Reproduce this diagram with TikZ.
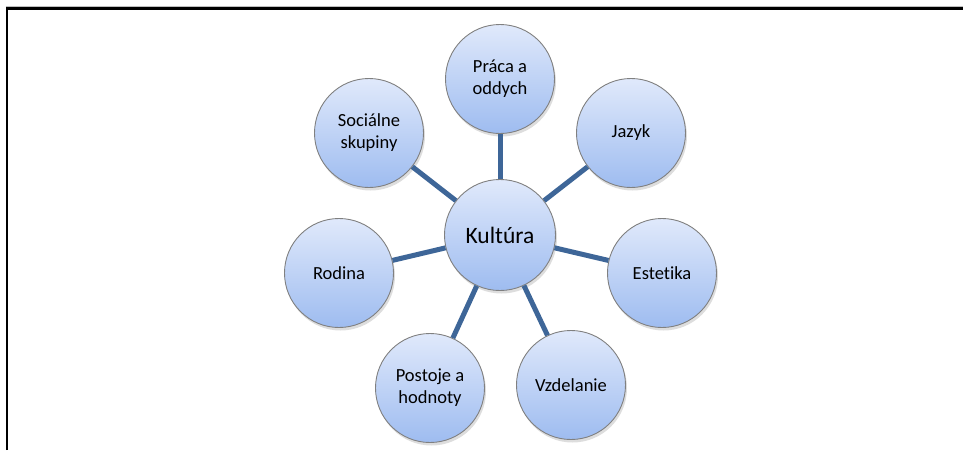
\documentclass[tikz,border=0pt]{standalone}
\usepackage{fontspec}
\setmainfont{Carlito}[RawFeature=-liga]
\usetikzlibrary{shadows}
\definecolor{linkblue}{RGB}{62,102,152}
\definecolor{ctop}{RGB}{224,233,251}
\definecolor{cbot}{RGB}{158,188,240}
\definecolor{cedge}{RGB}{128,128,128}
\tikzset{
  bubble/.style={circle, minimum size=109pt, inner sep=0pt, draw=cedge, line width=0.9pt,
    top color=ctop, bottom color=cbot, align=center,
    font=\fontsize{18.5}{22}\selectfont,
    drop shadow={shadow xshift=1.5pt, shadow yshift=-3pt, opacity=0.22, fill=black!60}},
  hub/.style={bubble, minimum size=111pt, font=\fontsize{23.5}{28}\selectfont},
  link/.style={draw=linkblue, line width=5pt}
}
\begin{document}
\begin{tikzpicture}[x=1pt, y=-1pt]
\useasboundingbox (0,0) rectangle (963,450);
\fill[white] (0,0) rectangle (963,450);
% frame
\draw[black!25, line width=1pt] (5.5,6.5) -- (963,6.5);
\draw[black, line width=2.6pt] (7,450) -- (7,8.6) -- (963,8.6);
% nodes
\node[hub] (k) at (500,235) {Kultúra};
\node[bubble] (p) at (500,79) {Práca a\\oddych};
\node[bubble] (j) at (631,133) {Jazyk};
\node[bubble] (e) at (662,273) {Estetika};
\node[bubble] (v) at (571,385) {Vzdelanie};
\node[bubble] (h) at (430,388) {Postoje a\\hodnoty};
\node[bubble] (r) at (339,273) {Rodina};
\node[bubble] (s) at (369,133) {Sociálne\\skupiny};
% connectors
\foreach \n in {p,j,e,v,h,r,s} {\draw[link] (k) -- (\n);}
\end{tikzpicture}
\end{document}
